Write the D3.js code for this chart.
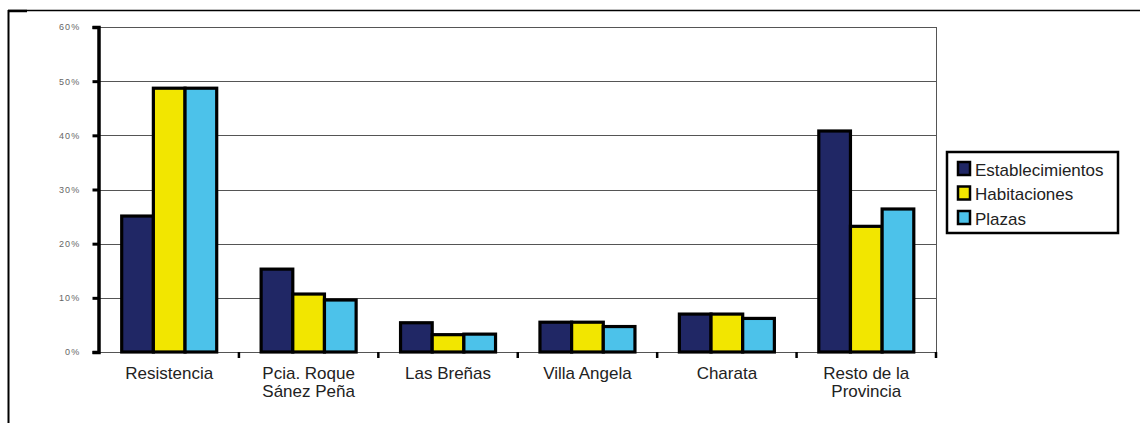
<!DOCTYPE html>
<html><head><meta charset="utf-8">
<script src="https://cdn.jsdelivr.net/npm/d3@7"></script>
<style>body{margin:0;background:#fff;} svg{display:block;}</style>
</head><body>
<script>
const categories = [["Resistencia"], ["Pcia. Roque", "Sánez Peña"], ["Las Breñas"], ["Villa Angela"], ["Charata"], ["Resto de la", "Provincia"]];
const seriesNames = ["Establecimientos", "Habitaciones", "Plazas"];
const establecimientos = [25.1, 15.3, 5.4, 5.5, 7.0, 40.8];
const habitaciones = [48.7, 10.7, 3.2, 5.5, 7.0, 23.2];
const plazas = [48.7, 9.6, 3.3, 4.7, 6.2, 26.4];
const yTicks = [0, 10, 20, 30, 40, 50, 60];
const colors = ["#202765", "#f2e600", "#4cc2ea"];

(function() {
const W = 1140, H = 423;
const svg = d3.select("body").append("svg").attr("width", W).attr("height", H);
const font = "Liberation Sans, Arial, sans-serif";

// outer frame
svg.append("line").attr("x1", 8).attr("x2", 1140).attr("y1", 10.5).attr("y2", 10.5).attr("stroke", "#000").attr("stroke-width", 1.5);
svg.append("line").attr("x1", 8.5).attr("x2", 8.5).attr("y1", 10).attr("y2", 423).attr("stroke", "#000").attr("stroke-width", 2);
svg.append("line").attr("x1", 8).attr("x2", 27).attr("y1", 11).attr("y2", 11).attr("stroke", "#000").attr("stroke-width", 2.5);

const axisX = 98.5, pLeft = 99.5, pRight = 936, pTop = 27, pBottom = 352;
const keys = categories.map((c, i) => i);
const x = d3.scaleBand().domain(keys).range([pLeft, pRight]).paddingInner(0).paddingOuter(0);
const y = d3.scaleLinear().domain([0, 60]).range([pBottom, pTop]);
const xs = d3.scaleBand().domain([0, 1, 2]).range([0, 95]);
const groupOffset = (x.bandwidth() - 95) / 2;

// gridlines
svg.append("g").selectAll("line").data(yTicks).join("line")
  .attr("x1", axisX).attr("x2", pRight)
  .attr("y1", d => Math.round(y(d)) + 0.5).attr("y2", d => Math.round(y(d)) + 0.5)
  .attr("stroke", "#555").attr("stroke-width", 1);
// right edge
svg.append("line").attr("x1", pRight + 0.5).attr("x2", pRight + 0.5).attr("y1", pTop).attr("y2", pBottom)
  .attr("stroke", "#555").attr("stroke-width", 1);

// y axis
const yAxis = d3.axisLeft(y).tickValues(yTicks).tickSize(6).tickFormat(d => d + "%");
const gy = svg.append("g").attr("transform", `translate(${axisX},0)`).call(yAxis);
gy.select(".domain").attr("stroke", "#000").attr("stroke-width", 3.5);
gy.selectAll(".tick line").attr("stroke", "#000").attr("stroke-width", 3);
gy.selectAll(".tick text").attr("x", -18).attr("font-family", font)
  .attr("font-size", 9).attr("fill", "#666").attr("letter-spacing", "1.2px");

// x ticks at category boundaries
const bounds = keys.map(k => x(k)).concat([pRight]).slice(1);
svg.append("g").selectAll("line").data(bounds).join("line")
  .attr("x1", d => d).attr("x2", d => d).attr("y1", pBottom).attr("y2", pBottom + 6)
  .attr("stroke", "#000").attr("stroke-width", 2.5);

// bars
const series = [establecimientos, habitaciones, plazas];
const bars = [];
series.forEach((vals, s) => vals.forEach((v, i) => bars.push({s, i, v})));
svg.append("g").selectAll("rect").data(bars).join("rect")
  .attr("x", d => x(d.i) + groupOffset + xs(d.s))
  .attr("width", xs.bandwidth())
  .attr("y", d => y(d.v))
  .attr("height", d => y(0) - y(d.v))
  .attr("fill", d => colors[d.s])
  .attr("stroke", "#000").attr("stroke-width", 3.2);

// category labels
const lab = svg.append("g").selectAll("text").data(keys).join("text")
  .attr("x", d => x(d) + x.bandwidth() / 2)
  .attr("y", 379)
  .attr("text-anchor", "middle")
  .attr("font-family", font)
  .attr("font-size", 17).attr("fill", "#222");
lab.each(function(d) {
  d3.select(this).selectAll("tspan").data(categories[d]).join("tspan")
    .attr("x", x(d) + x.bandwidth() / 2)
    .attr("dy", (t, j) => j === 0 ? 0 : 18)
    .text(t => t);
});

// legend
const lg = svg.append("g").attr("transform", "translate(947,152)");
lg.append("rect").attr("x", 0).attr("y", 0).attr("width", 171).attr("height", 81)
  .attr("fill", "#fff").attr("stroke", "#000").attr("stroke-width", 2.5);
seriesNames.forEach((n, i) => {
  lg.append("rect").attr("x", 11).attr("y", 10 + i * 24.5).attr("width", 12).attr("height", 13)
    .attr("fill", colors[i]).attr("stroke", "#000").attr("stroke-width", 2.5);
  lg.append("text").attr("x", 28).attr("y", 23.5 + i * 24.5).text(n)
    .attr("font-family", font).attr("font-size", 17).attr("fill", "#222");
});
})();
</script>
</body></html>
